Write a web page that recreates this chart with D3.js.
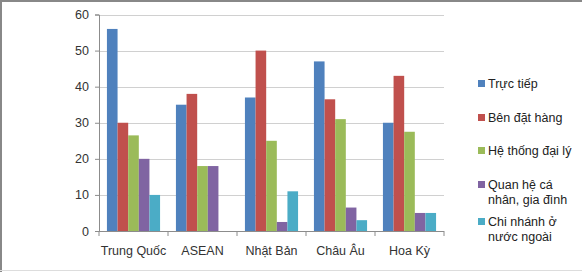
<!DOCTYPE html>
<html>
<head>
<meta charset="utf-8">
<script src="https://cdn.jsdelivr.net/npm/d3@7"></script>
<style>
  body { margin: 0; background: #fff; }
  svg { display: block; font-family: "Liberation Sans", Arial, sans-serif; }
  .tick text { fill: #333; }
</style>
</head>
<body>
<svg id="chart" width="582" height="272"></svg>
<script>
// Danh mục và chuỗi số liệu
const categories = ['Trung Quốc', 'ASEAN', 'Nhật Bản', 'Châu Âu', 'Hoa Kỳ']
const seriesNames = ['Trực tiếp', 'Bên đặt hàng', 'Hệ thống đại lý', 'Quan hệ cá nhân, gia đình', 'Chi nhánh ở nước ngoài']
const legendLines = [['Trực tiếp'], ['Bên đặt hàng'], ['Hệ thống đại lý'], ['Quan hệ cá', 'nhân, gia đình'], ['Chi nhánh ở', 'nước ngoài']]
const trucTiep = [56, 35, 37, 47, 30]
const benDatHang = [30, 38, 50, 36.5, 43]
const heThongDaiLy = [26.5, 18, 25, 31, 27.5]
const quanHe = [20, 18, 2.5, 6.5, 5]
const chiNhanh = [10, 0, 11, 3, 5]
const yTicks = [0, 10, 20, 30, 40, 50, 60]
const colors = ['#4f81bd', '#c0504d', '#9bbb59', '#8064a2', '#4bacc6']

const series = [trucTiep, benDatHang, heThongDaiLy, quanHe, chiNhanh]

const svg = d3.select('#chart')
const W = +svg.attr('width'), H = +svg.attr('height')
const m = { left: 99, right: 138, top: 14.5, bottom: 41 }

// Khung ngoài
svg.append('rect').attr('x', 0).attr('y', 0).attr('width', W).attr('height', H).attr('fill', '#fff')
svg.append('path').attr('d', `M1,${H} V1 H${W}`).attr('fill', 'none').attr('stroke', '#888').attr('stroke-width', 2)
svg.append('line').attr('x1', 0).attr('x2', W).attr('y1', H - 1.5).attr('y2', H - 1.5).attr('stroke', '#ddd')

const x0 = d3.scaleBand().domain(categories).range([m.left, W - m.right]).paddingInner(0.23).paddingOuter(0.115)
const x1 = d3.scaleBand().domain(d3.range(series.length)).range([0, x0.bandwidth()])
const y = d3.scaleLinear().domain([0, 60]).range([H - m.bottom, m.top])

// Lưới ngang
svg.append('g')
    .selectAll('line')
    .data(yTicks.filter(t => t > 0))
    .join('line')
    .attr('x1', m.left).attr('x2', W - m.right)
    .attr('y1', d => Math.round(y(d)) + 0.5).attr('y2', d => Math.round(y(d)) + 0.5)
    .attr('stroke', '#d0d0d0')

// Cột
const group = svg.append('g')
    .selectAll('g')
    .data(categories)
    .join('g')
    .attr('transform', d => `translate(${x0(d)},0)`)

group.selectAll('rect')
    .data((d, i) => series.map((s, k) => ({ k, v: s[i] })))
    .join('rect')
    .attr('x', d => x1(d.k))
    .attr('width', x1.bandwidth())
    .attr('y', d => y(d.v))
    .attr('height', d => y(0) - y(d.v))
    .attr('fill', d => colors[d.k])

// Trục Y
const yAxis = svg.append('g')
    .attr('transform', `translate(${m.left},0)`)
    .call(d3.axisLeft(y).tickValues(yTicks).tickSize(4).tickPadding(6))
yAxis.selectAll('path, line').attr('stroke', '#8c8c8c')
yAxis.selectAll('text').attr('font-size', 12.5)

// Trục X
const xEdges = d3.range(categories.length + 1).map(i => m.left + i * (W - m.right - m.left) / categories.length)
const xg = svg.append('g')
xg.append('line')
    .attr('x1', m.left - 4).attr('x2', W - m.right)
    .attr('y1', y(0) + 0.5).attr('y2', y(0) + 0.5)
    .attr('stroke', '#8c8c8c')
xg.selectAll('line.t')
    .data(xEdges)
    .join('line')
    .attr('class', 't')
    .attr('x1', d => d).attr('x2', d => d)
    .attr('y1', y(0)).attr('y2', y(0) + 5)
    .attr('stroke', '#8c8c8c')
xg.selectAll('text')
    .data(categories)
    .join('text')
    .attr('x', d => x0(d) + x0.bandwidth() / 2)
    .attr('y', y(0) + 24)
    .attr('text-anchor', 'middle')
    .attr('font-size', 12.5)
    .attr('fill', '#333')
    .text(d => d)

// Chú giải
const legendY = [84, 118, 151, 185, 222]
const legend = svg.append('g')
    .selectAll('g')
    .data(seriesNames)
    .join('g')
    .attr('transform', (d, i) => `translate(478,${legendY[i]})`)
legend.append('rect')
    .attr('x', 0).attr('y', -4).attr('width', 7).attr('height', 7)
    .attr('fill', (d, i) => colors[i])
legend.append('text')
    .attr('x', 10)
    .attr('y', 0)
    .attr('font-size', 12.5)
    .attr('fill', '#222')
    .selectAll('tspan')
    .data((d, i) => legendLines[i])
    .join('tspan')
    .attr('x', 10)
    .attr('dy', (d, j) => j === 0 ? '0.35em' : '1.15em')
    .text(d => d)
</script>
</body>
</html>
